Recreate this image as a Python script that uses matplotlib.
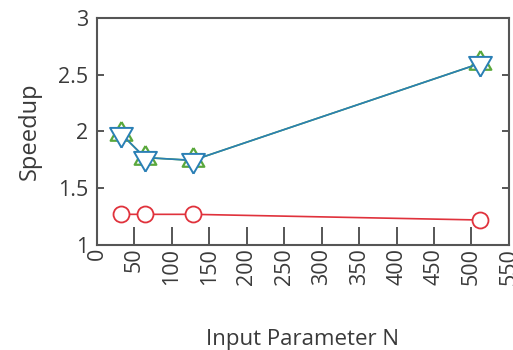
import matplotlib
matplotlib.use("Agg")
import matplotlib.pyplot as plt

plt.rcParams["font.family"] = ["Open Sans", "DejaVu Sans"]

n_values = [32, 64, 128, 512]
speedup_green = [1.98, 1.77, 1.745, 2.60]
speedup_blue = [1.98, 1.77, 1.745, 2.60]
speedup_red = [1.27, 1.27, 1.27, 1.22]
x_ticks = list(range(0, 551, 50))
y_ticks = [1, 1.5, 2, 2.5, 3]

# triangles centred on their centroid so the two overlap as a star
tri_up = [(0, 1), (-0.866, -0.5), (0.866, -0.5), (0, 1)]
tri_down = [(0, -1), (-0.866, 0.5), (0.866, 0.5), (0, -1)]

fig = plt.figure(figsize=(5.13, 3.5), dpi=100)
ax = fig.add_axes([0.189, 0.30, 0.803, 0.649])

ax.plot(n_values, speedup_green, color="#5aa83c", marker=tri_up, markersize=18,
        markerfacecolor="white", markeredgewidth=1.6, linewidth=1.2)
ax.plot(n_values, speedup_blue, color="#2a7fb5", marker=tri_down, markersize=19,
        markerfacecolor="white", markeredgewidth=1.4, linewidth=1.2)
ax.plot(n_values, speedup_red, color="#e0323c", marker="o", markersize=11.5,
        markerfacecolor="white", markeredgewidth=1.3, linewidth=1.2)

ax.set_xlim(0, 550)
ax.set_ylim(1, 3)
ax.set_xticks(x_ticks)
ax.set_xticklabels([str(t) for t in x_ticks], rotation=90)
ax.set_yticks(y_ticks)
ax.set_yticklabels(["1", "1.5", "2", "2.5", "3"])
ax.tick_params(direction="in", width=1.2, colors="#3a3a3a", labelsize=15.5,
               right=True)
ax.tick_params(axis="x", length=13, pad=2)
ax.tick_params(axis="y", length=5, pad=6)
for s in ax.spines.values():
    s.set_color("#555555")
    s.set_linewidth(1.5)

ax.set_ylabel("Speedup", fontsize=17, color="#3a3a3a", labelpad=12)
ax.set_xlabel("Input Parameter N", fontsize=16, color="#3a3a3a", labelpad=32)

fig.savefig("out.png", dpi=100, facecolor="white")
